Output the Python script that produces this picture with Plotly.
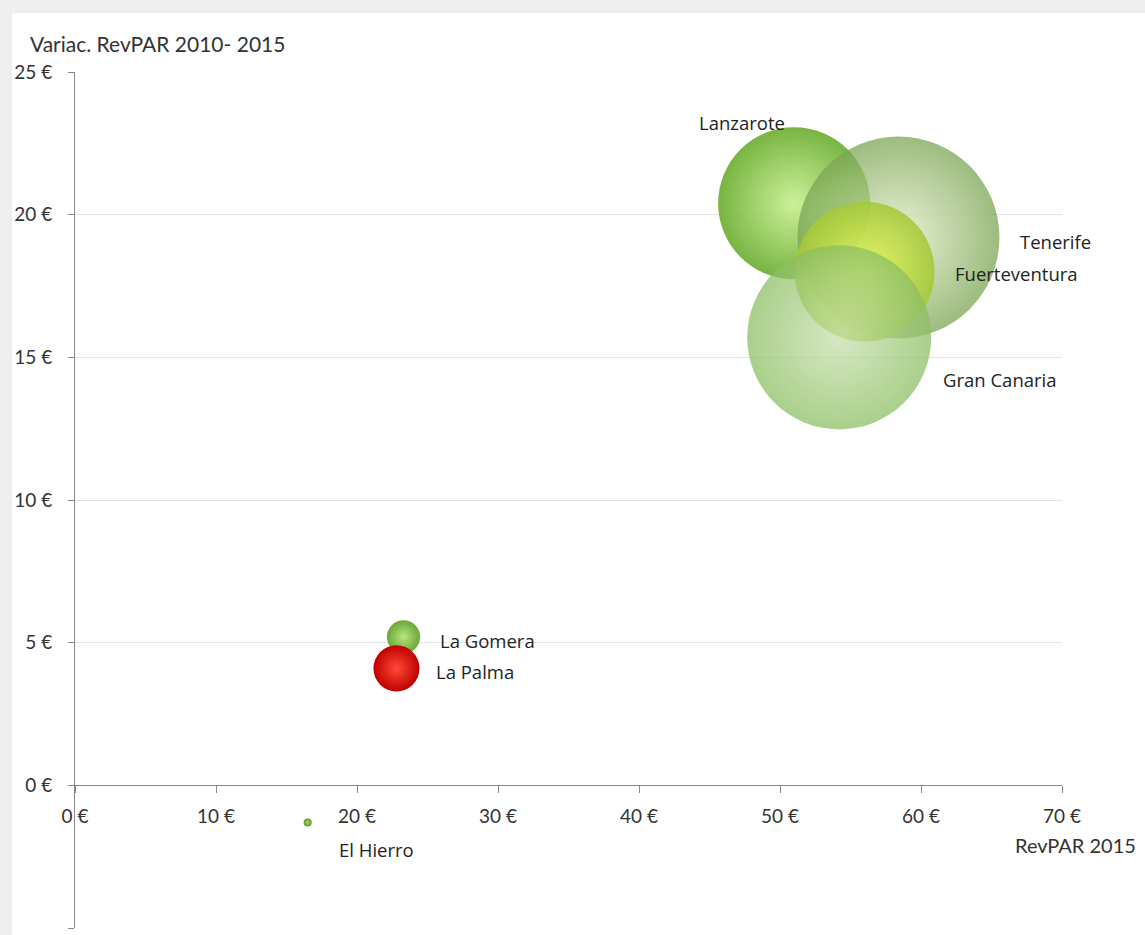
import plotly.graph_objects as go

# ---- data ----
islands = ["Lanzarote", "Tenerife", "Fuerteventura", "Gran Canaria", "La Gomera", "La Palma", "El Hierro"]
revpar_2015 = [51.0, 58.4, 56.0, 54.2, 23.3, 22.8, 16.5]
var_revpar_2010_2015 = [20.4, 19.2, 18.0, 15.7, 5.2, 4.1, -1.3]
bubble_size = [56.6, 100.0, 48.0, 83.0, 2.7, 5.2, 0.16]
x_ticks = [0, 10, 20, 30, 40, 50, 60, 70]
y_ticks = [-5, 0, 5, 10, 15, 20, 25]

# ---- styles ----
center_colors = ["#c8f090", "#e2edc8", "#e8f858", "#c8e0ae", "#b4e476", "#ff4a38", "#a8d86a"]
edge_colors = ["#6cae32", "#7aa452", "#a4c83a", "#8cbe62", "#62a22e", "#c00000", "#5c9a2a"]
opacities = [0.92, 0.74, 0.88, 0.74, 0.95, 1.0, 1.0]
label_offsets = {
    "Lanzarote": (-52, 81),
    "Tenerife": (157, -4),
    "Fuerteventura": (152, -2),
    "Gran Canaria": (161, -42),
    "La Gomera": (84, -4),
    "La Palma": (79, -3),
    "El Hierro": (69, -27),
}

max_diam = 202
fig = go.Figure()
fig.add_trace(go.Scatter(
    x=revpar_2015, y=var_revpar_2010_2015, mode="markers",
    text=islands,
    marker=dict(
        size=bubble_size, sizemode="area", sizeref=2.0 * max(bubble_size) / max_diam ** 2,
        color=edge_colors, opacity=opacities,
        gradient=dict(type="radial", color=center_colors),
        line=dict(width=0),
    ),
    hovertemplate="%{text}<br>RevPAR 2015: %{x} €<br>Variac.: %{y} €<extra></extra>",
    showlegend=False,
))

font_fam = "Lato, 'Open Sans', sans-serif"
for name, xv, yv in zip(islands, revpar_2015, var_revpar_2010_2015):
    dx, dy = label_offsets[name]
    fig.add_annotation(x=xv, y=yv, text=name, showarrow=False,
                       xshift=dx, yshift=dy,
                       font=dict(family="'Open Sans', sans-serif", size=18.5, color="#222"))

fig.add_annotation(xref="paper", yref="y", x=(1013 - 75) / 987, y=-2.1, xanchor="left", yanchor="middle",
                   text="RevPAR 2015", showarrow=False,
                   font=dict(family=font_fam, size=20, color="#333"))

fig.add_shape(type="rect", xref="paper", yref="paper", x0=-0.0638, x1=1.2, y0=-0.05, y1=1.069,
              fillcolor="white", line=dict(width=0), layer="below")

fig.update_layout(
    width=1145, height=935,
    margin=dict(l=75, r=83, t=72, b=7),
    paper_bgcolor="#efefef", plot_bgcolor="white",
    title=dict(text="Variac. RevPAR 2010- 2015", x=30 / 1145, xanchor="left",
               y=1 - 45 / 935, yanchor="middle",
               font=dict(family=font_fam, size=21, color="#333")),
    xaxis=dict(range=[0, 70], tickvals=x_ticks, ticktext=[f"{v} €" for v in x_ticks],
               anchor="free", position=1 / 6, showline=True, linecolor="#888", linewidth=1,
               ticks="outside", ticklen=7, tickcolor="#888", showgrid=False, zeroline=False,
               ticklabelstandoff=7,
               tickfont=dict(family=font_fam, size=19, color="#333")),
    yaxis=dict(range=[-5, 25], tickvals=y_ticks, ticktext=[f"{v} €" for v in y_ticks],
               showline=True, linecolor="#888", linewidth=1,
               ticks="outside", ticklen=6, tickcolor="#888",
               ticklabelstandoff=12,
               showgrid=True, gridcolor="#e4e4e4", zeroline=False,
               tickfont=dict(family=font_fam, size=19, color="#333")),
)

fig.write_html("out.html")
